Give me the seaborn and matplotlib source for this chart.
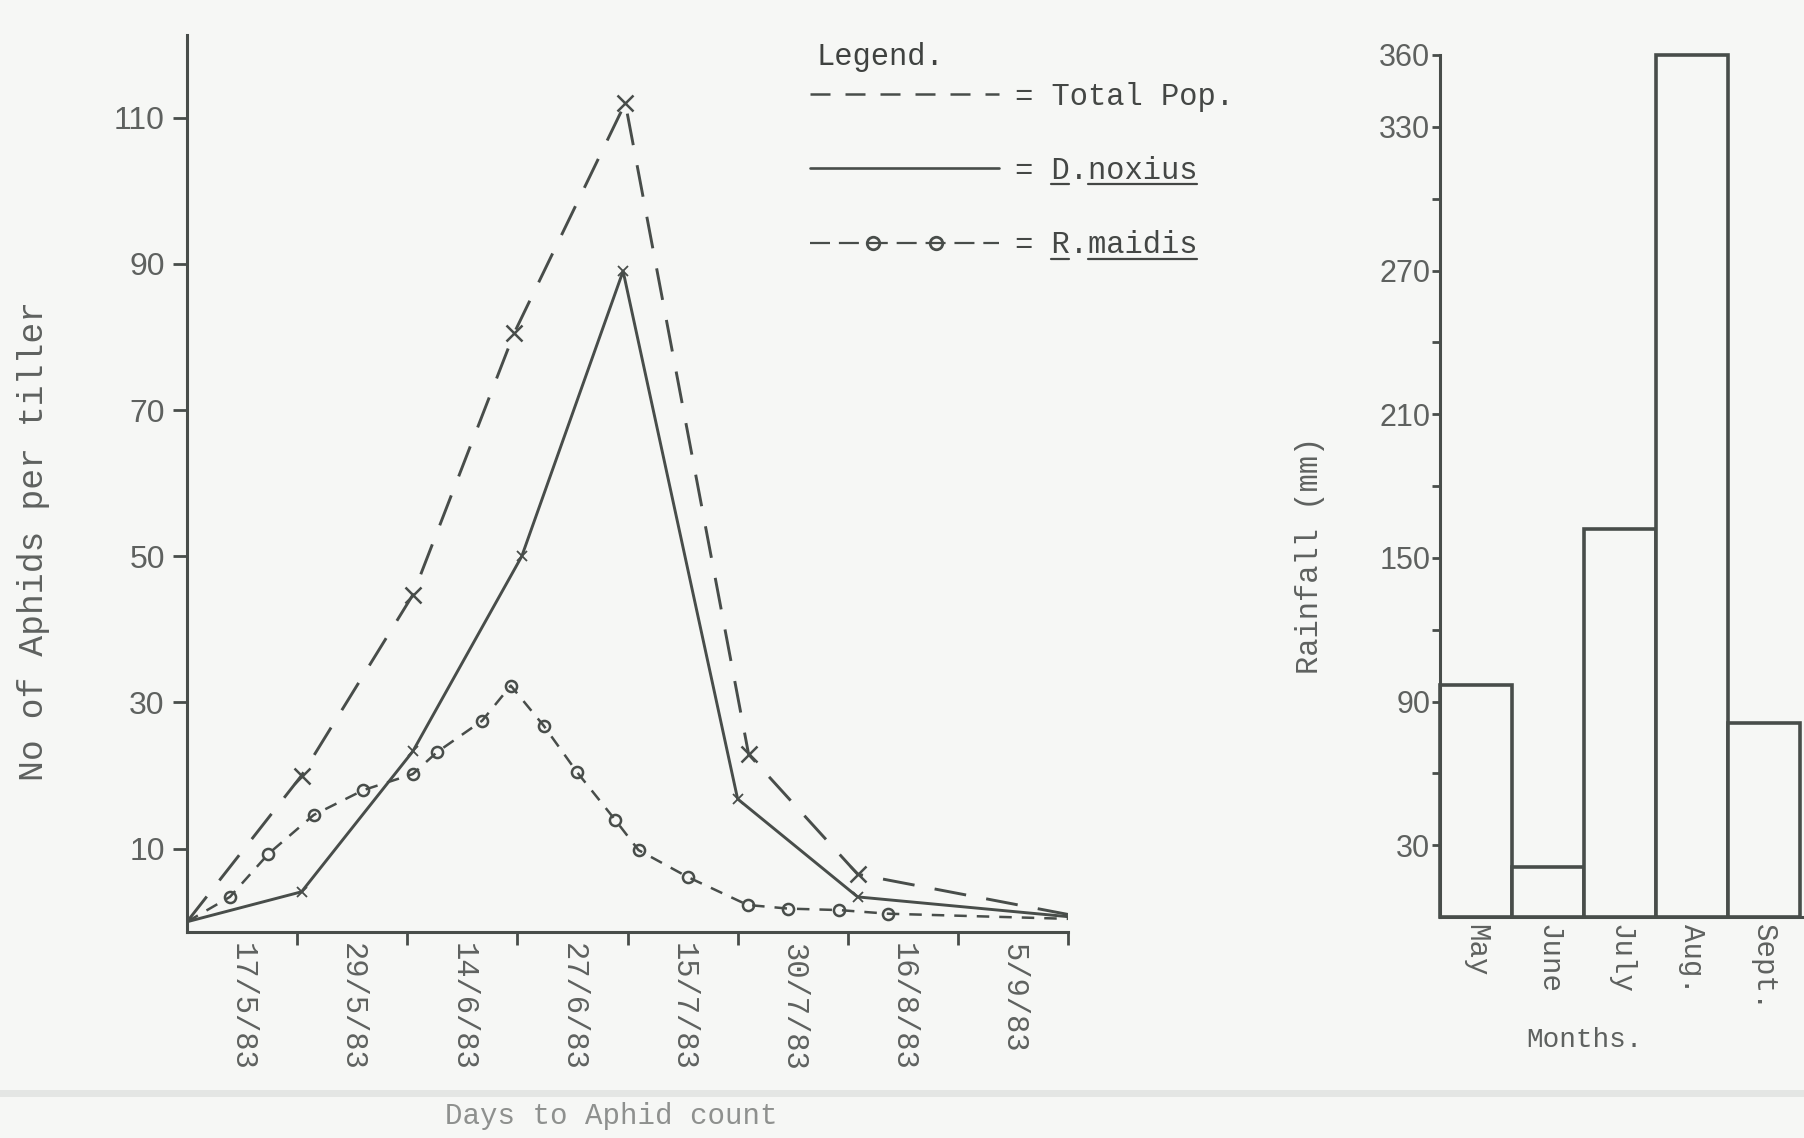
import matplotlib
matplotlib.use("Agg")
import numpy as np
import matplotlib.pyplot as plt
from matplotlib.lines import Line2D
from matplotlib.patches import Rectangle
from matplotlib.legend_handler import HandlerLine2D
from matplotlib.font_manager import FontProperties
import seaborn as sns

# aphid counts, x in tick units along the "Days to Aphid count" axis
total_x = [0, 1.04, 2.05, 2.97, 3.98, 5.1, 6.09, 8.0]
total_y = [0, 20, 44.7, 80.5, 112, 22.9, 6.5, 1.0]
noxius_x = [0, 1.04, 2.05, 3.04, 3.96, 5.0, 6.09, 8.0]
noxius_y = [0, 4.1, 23.3, 50, 89, 16.8, 3.4, 0.7]
maidis_x = [0, 0.39, 0.74, 1.15, 1.6, 2.05, 2.27, 2.68, 2.94, 3.24, 3.54,
            3.89, 4.1, 4.55, 5.09, 5.46, 5.92, 6.37, 8.0]
maidis_y = [0, 3.4, 9.3, 14.6, 18, 20.2, 23.2, 27.5, 32.3, 26.8, 20.5,
            13.9, 9.8, 6.1, 2.3, 1.8, 1.6, 1.1, 0.4]
date_labels = ["17/5/83", "29/5/83", "14/6/83", "27/6/83",
               "15/7/83", "30/7/83", "16/8/83", "5/9/83"]
aphid_ticks = [10, 30, 50, 70, 90, 110]

# monthly rainfall (mm)
months = ["May", "June", "July", "Aug.", "Sept."]
rainfall = [97, 21, 162, 360, 81]
rain_ticks = [30, 90, 150, 210, 270, 330, 360]
rain_minor = [60, 120, 180, 240, 300]

ink = "#484d4a"
grey = "#5e615f"
bg = "#f6f7f5"
mono = "Liberation Mono"
sans = "Liberation Sans"

sns.set_theme(style="white")
plt.rcParams["font.family"] = [mono, "DejaVu Sans"]
plt.rcParams["axes.linewidth"] = 2.2
plt.rcParams["axes.edgecolor"] = ink

fig = plt.figure(figsize=(18.04, 11.38), dpi=100, facecolor=bg)

# ---------- left: aphid population ----------
ax = fig.add_axes([187 / 1804, 206 / 1138, 881 / 1804, 897 / 1138])
ax.set_facecolor(bg)

sns.lineplot(x=total_x, y=total_y, ax=ax, color=ink, lw=2.1,
             linestyle=(0, (11, 7)), marker="x", markersize=11,
             markeredgewidth=1.8, markeredgecolor=ink,
             markevery=list(range(1, 7)), errorbar=None)
sns.lineplot(x=noxius_x, y=noxius_y, ax=ax, color=ink, lw=2.1,
             marker="x", markersize=7, markeredgewidth=1.3,
             markeredgecolor=ink, markevery=list(range(1, 7)), errorbar=None)
sns.lineplot(x=maidis_x, y=maidis_y, ax=ax, color=ink, lw=1.8,
             linestyle=(0, (5, 4)), marker="o", markersize=8,
             markerfacecolor="none", markeredgewidth=1.8,
             markeredgecolor=ink, markevery=list(range(1, 18)),
             errorbar=None)

ax.set_xlim(0, 8)
ax.set_ylim(-1.4, 121.3)
for s in ["top", "right"]:
    ax.spines[s].set_visible(False)

ax.set_yticks(aphid_ticks, labels=[str(t) for t in aphid_ticks],
              fontfamily=sans, fontsize=23, color=grey)
ax.tick_params(axis="y", left=True, direction="out", length=10, width=2,
               color=ink, pad=6)
ax.set_xticks(range(1, 9), labels=[""] * 8)
ax.set_xticks(np.arange(8) + 0.5, labels=date_labels, minor=True,
              rotation=-90, fontfamily=mono, fontsize=22, color=grey)
ax.tick_params(axis="x", which="major", bottom=True, direction="out",
               length=9, width=2, color=ink)
ax.tick_params(axis="x", which="minor", bottom=True, length=0, pad=8)

ax.set_ylabel("No of Aphids per tiller", fontsize=25, color=grey,
              fontfamily=mono)
ax.yaxis.set_label_coords(-0.155, 0.436)
ax.set_xlabel("Days to Aphid count", fontsize=21, color="#8e908e",
              fontfamily=mono)
ax.xaxis.set_label_coords(0.482, -0.19)

ax.text(0.715, 0.975, "Legend.", transform=ax.transAxes, fontsize=22,
        fontfamily=mono, color="#3f4240", va="center")

h1 = Line2D([], [], color=ink, lw=1.8, linestyle=(0, (8, 6)))
h2 = Line2D([], [], color=ink, lw=1.9)
h3 = Line2D([], [], color=ink, lw=1.6, linestyle=(0, (9, 4)), marker="o",
            markerfacecolor="none", markersize=9, markeredgewidth=2)
leg = ax.legend([h1, h2, h3], ["= Total Pop.", "= D.noxius", "= R.maidis"],
                loc="upper left", bbox_to_anchor=(0.707, 0.948),
                frameon=False, handlelength=6.2, handletextpad=0.5,
                labelspacing=1.45, numpoints=4, borderpad=0, borderaxespad=0,
                handler_map={h: HandlerLine2D(marker_pad=0) for h in [h1, h2, h3]},
                prop=FontProperties(family=mono, size=22))
for t in leg.get_texts():
    t.set_color("#444745")
leg.get_lines()[2].set_markevery([1, 2])

# ---------- right: rainfall ----------
ax2 = fig.add_axes([1440 / 1804, 221 / 1138, 364 / 1804, 862 / 1138])
ax2.set_facecolor(bg)
sns.barplot(x=months, y=rainfall, ax=ax2, color=bg, edgecolor=ink,
            linewidth=2.6, width=1.0, saturation=1, errorbar=None)
for p in ax2.patches:
    p.set_clip_on(False)
ax2.set_xlim(-0.5, 4.556)
ax2.set_ylim(0, 360)
for s in ["top", "right"]:
    ax2.spines[s].set_visible(False)
ax2.set_yticks(rain_ticks, labels=[str(t) for t in rain_ticks],
               fontfamily=sans, fontsize=22, color=grey)
ax2.set_yticks(rain_minor, minor=True)
ax2.tick_params(axis="y", which="both", left=True, direction="out",
                length=6, width=2, color=ink, pad=1)
ax2.set_xticks(range(len(months)), labels=months, rotation=-90,
               fontfamily=mono, fontsize=21, color=grey)
ax2.tick_params(axis="x", length=0, pad=5)
ax2.set_ylabel("Rainfall (mm)", fontsize=22, color=grey, fontfamily=mono)
ax2.yaxis.set_label_coords(-0.316, 0.419)
ax2.set_xlabel("Months.", fontsize=20, color=grey, fontfamily=mono)
ax2.xaxis.set_label_coords(0.398, -0.128)

# underline the species names like the typed original
fig.canvas.draw()
r = fig.canvas.get_renderer()
inv = fig.transFigure.inverted()
for t in leg.get_texts()[1:]:
    bb = t.get_window_extent(r)
    cw = bb.width / len(t.get_text())
    y = bb.y0 + 0.05 * bb.height
    for a, b in [(2, 3), (4, len(t.get_text()))]:
        (x0, yy), (x1, _) = inv.transform([(bb.x0 + a * cw, y), (bb.x0 + b * cw, y)])
        fig.add_artist(Line2D([x0, x1], [yy, yy], color="#444745", lw=1.6))

# scanner edge near the bottom of the page
fig.add_artist(Rectangle((0, 0.036), 1, 0.006, transform=fig.transFigure,
                         color="#e4e6e4", lw=0))

fig.savefig("out.png", dpi=100, facecolor=bg)
